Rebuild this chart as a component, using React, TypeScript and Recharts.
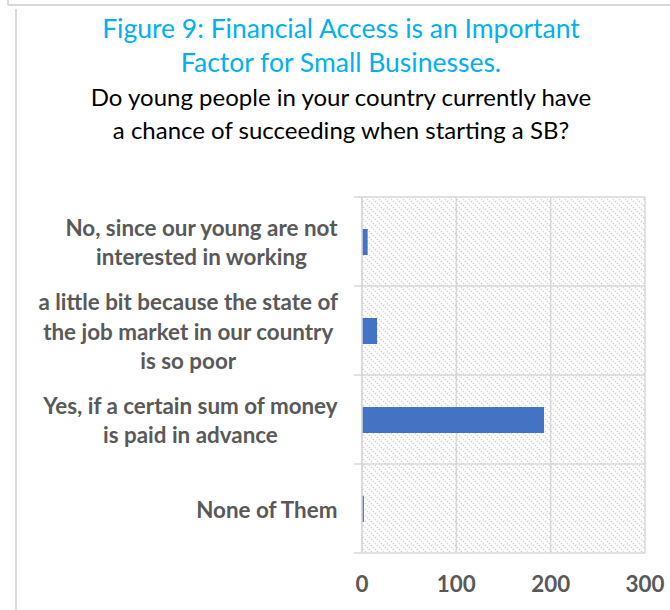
import { BarChart, Bar, XAxis, YAxis, CartesianGrid } from "recharts";

const categories = [
  ["No, since our young are not", "interested in working"],
  ["a little bit because the state of", "the job market in our country", "is so poor"],
  ["Yes, if a certain sum of money", "is paid in advance"],
  ["None of Them"],
];
const counts = [6, 16, 193, 2];
const xTicks = [0, 100, 200, 300];

const data = categories.map((lines, i) => ({ name: lines.join(" "), value: counts[i] }));

const W = 670;
const H = 610;
const PLOT_LEFT = 362;
const PLOT_RIGHT = 645;
const PLOT_TOP = 197;
const PLOT_BOTTOM = 553;
const BAND = (PLOT_BOTTOM - PLOT_TOP) / categories.length;
const LABEL_RIGHT = 338;
const LABEL_FONT = "bold 22.4px Lato";
const GREY = "#595959";
const GRID = "#d9d9d9";

let ctx: CanvasRenderingContext2D | null = null;
function measure(s: string) {
  if (!ctx) ctx = document.createElement("canvas").getContext("2d");
  if (!ctx) return s.length * 10;
  ctx.font = LABEL_FONT;
  return ctx.measureText(s).width;
}

function CategoryTick(props: any) {
  const { y, index } = props;
  const lines = categories[index] || [];
  const blockW = Math.max(...lines.map(measure));
  const cx = LABEL_RIGHT - blockW / 2;
  const lh = 29.5;
  const y0 = y - ((lines.length - 1) * lh) / 2;
  const top = y - BAND / 2;
  return (
    <g>
      <line x1={PLOT_LEFT - 8} x2={PLOT_LEFT} y1={top} y2={top} stroke={GRID} strokeWidth={1.5} />
      {index === categories.length - 1 && (
        <line x1={PLOT_LEFT - 8} x2={PLOT_LEFT} y1={top + BAND} y2={top + BAND} stroke={GRID} strokeWidth={1.5} />
      )}
      <text x={cx} y={y0} textAnchor="middle" dominantBaseline="central" fill={GREY}
        style={{ font: LABEL_FONT }}>
        {lines.map((l, i) => (
          <tspan key={i} x={cx} y={y0 + i * lh}>{l}</tspan>
        ))}
      </text>
    </g>
  );
}

function ValueTick(props: any) {
  const { x, payload } = props;
  return (
    <text x={x} y={PLOT_BOTTOM + 30} textAnchor="middle" dominantBaseline="central" fill={GREY}
      style={{ font: LABEL_FONT }}>
      {payload.value}
    </text>
  );
}

export default function App() {
  return (
    <div style={{ position: "absolute", left: 0, top: 0, width: W, height: H, background: "#fff", overflow: "hidden" }}>
      <div style={{ position: "absolute", left: 8, top: 4, width: W - 8, height: 2, background: GRID }} />
      <div style={{ position: "absolute", left: 7, top: 0, width: 2, height: 5, background: GRID }} />
      <div style={{ position: "absolute", left: 15, top: 9, width: 2, height: H - 9, background: GRID }} />
      <div style={{ position: "absolute", left: 0, top: 11, width: 682, textAlign: "center",
        fontFamily: "Lato", fontSize: 26.5, lineHeight: "34px", color: "#00b0f0" }}>
        Figure 9: Financial Access is an Important<br />Factor for Small Businesses.
      </div>
      <div style={{ position: "absolute", left: 0, top: 80, width: 682, textAlign: "center",
        fontFamily: "Lato", fontSize: 24, lineHeight: "33px", color: "#000" }}>
        Do young people in your country currently have<br />a chance of succeeding when starting a SB?
      </div>
      <div style={{ position: "absolute", left: 0, top: 0 }}>
        <BarChart width={W} height={H} data={data} layout="vertical" barSize={26}
          margin={{ top: PLOT_TOP, right: W - PLOT_RIGHT, bottom: 0, left: 0 }}>
          <defs>
            <pattern id="hatch" patternUnits="userSpaceOnUse" width={6} height={6}>
              <path d="M-1,-1 L7,7 M-1,5 L1,7 M5,-1 L7,1" stroke="#d3d3d3" strokeWidth={1.3}
                strokeDasharray="1.4 1.4" />
            </pattern>
          </defs>
          <CartesianGrid
            fill="url(#hatch)"
            stroke={GRID}
            strokeWidth={1.5}
            horizontalCoordinatesGenerator={({ offset }: any) =>
              categories.map((_, i) => offset.top + i * BAND).concat([offset.top + offset.height])
            }
          />
          <XAxis type="number" domain={[0, 300]} ticks={xTicks} height={H - PLOT_BOTTOM}
            axisLine={false} tickLine={false} tick={<ValueTick />} interval={0} />
          <YAxis type="category" dataKey="name" width={PLOT_LEFT} axisLine={{ stroke: GRID, strokeWidth: 1.5 }}
            tickLine={false} tick={<CategoryTick />} interval={0} />
          <Bar dataKey="value" fill="#4472c4" isAnimationActive={false} />
        </BarChart>
      </div>
    </div>
  );
}
